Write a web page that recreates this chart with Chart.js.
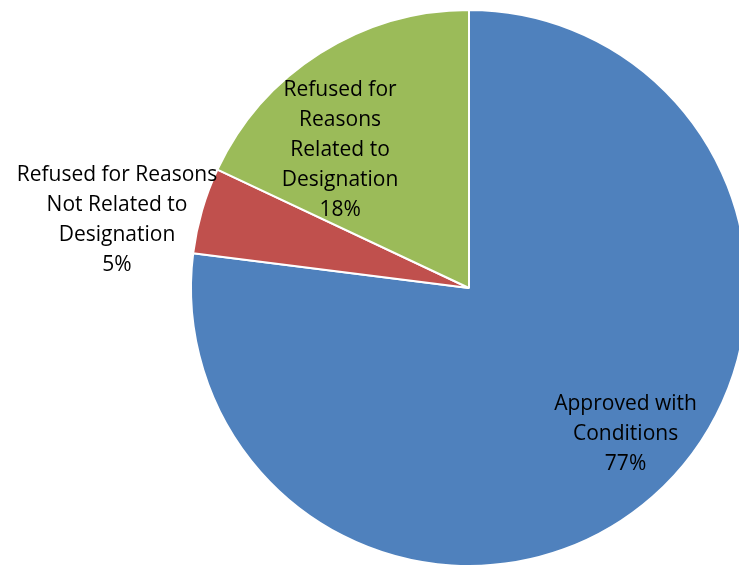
<!DOCTYPE html>
<html>
<head>
<meta charset="utf-8">
<script src="https://cdn.jsdelivr.net/npm/chart.js@4"></script>
<style>
  html, body { margin: 0; padding: 0; overflow: hidden; background: #fff; }
  #wrap { position: absolute; left: 0; top: 0; width: 938px; height: 576px; }
</style>
</head>
<body>
<div id="wrap"><canvas id="pie"></canvas></div>
<script>
const categories = [
    ["Approved with", "Conditions"],
    ["Refused for Reasons", "Not Related to", "Designation"],
    ["Refused for", "Reasons", "Related to", "Designation"]
]
const shares = [77, 5, 18]
const colours = ["#4F81BD", "#C0504D", "#9BBB59"]

// where each label sits: angle in degrees (0 = right, clockwise) and distance as fraction of radius
const labelSpots = [
    { angle: 43, dist: 0.77 },
    { angle: -169, dist: 1.29 },
    { angle: -133, dist: 0.68 }
]

const sliceLabels = {
    id: "sliceLabels",
    afterDatasetsDraw(chart) {
        const ctx = chart.ctx
        const arcs = chart.getDatasetMeta(0).data
        ctx.save()
        ctx.font = "21px 'Open Sans', 'Liberation Sans', sans-serif"
        ctx.fillStyle = "#000"
        ctx.textAlign = "center"
        ctx.textBaseline = "middle"
        arcs.forEach((arc, i) => {
            const spot = labelSpots[i]
            const a = spot.angle * Math.PI / 180
            const cx = arc.x + Math.cos(a) * arc.outerRadius * spot.dist
            const cy = arc.y + Math.sin(a) * arc.outerRadius * spot.dist
            const lines = categories[i].concat([shares[i] + "%"])
            const lh = 30
            lines.forEach((t, k) => {
                ctx.fillText(t, cx, cy + (k - (lines.length - 1) / 2) * lh)
            })
        })
        ctx.restore()
    }
}

new Chart(document.getElementById("pie"), {
    type: "pie",
    data: {
        labels: categories.map(c => c.join(" ")),
        datasets: [{
            data: shares,
            backgroundColor: colours,
            borderColor: "#fff",
            borderWidth: 2
        }]
    },
    options: {
        responsive: true,
        maintainAspectRatio: false,
        animation: false,
        layout: { padding: 9 },
        plugins: { legend: { display: false }, tooltip: { enabled: false } }
    },
    plugins: [sliceLabels]
})
</script>
</body>
</html>
